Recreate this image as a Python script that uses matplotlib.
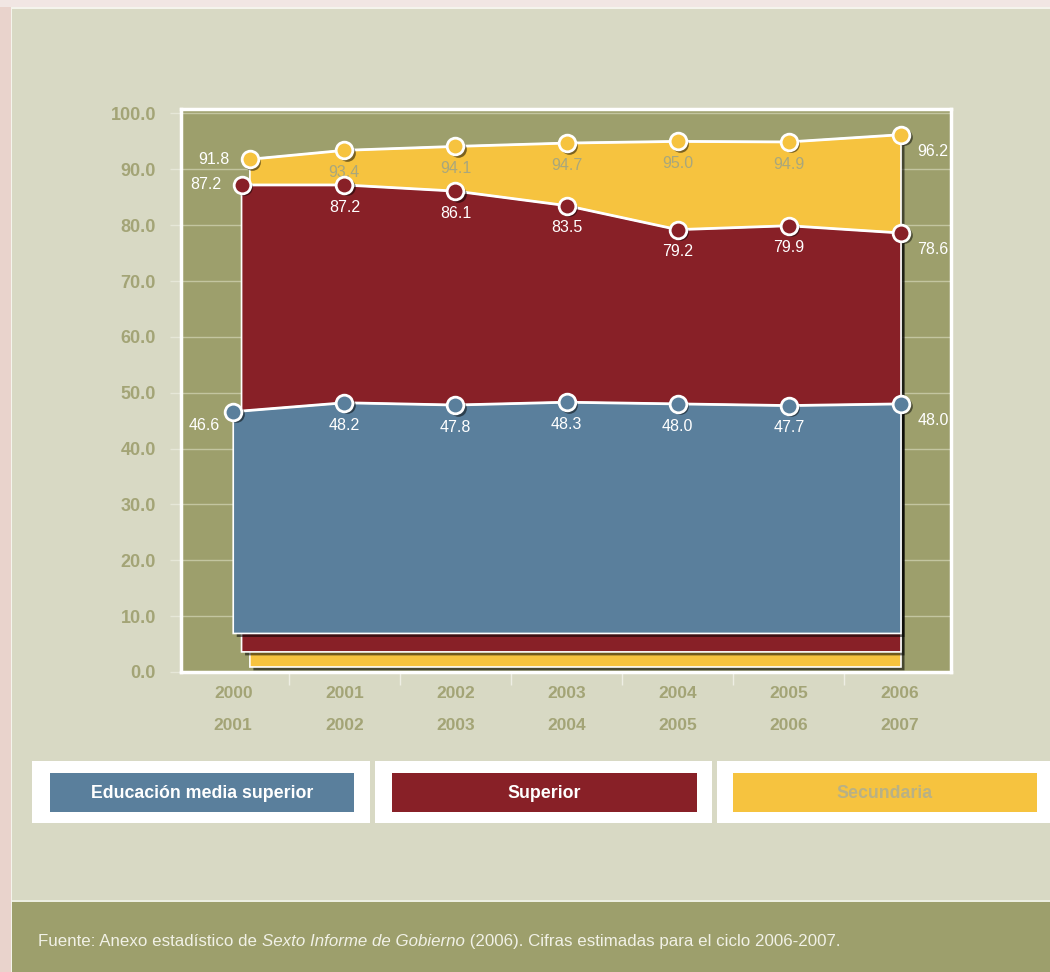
import matplotlib
matplotlib.use("Agg")
import matplotlib.pyplot as plt
from matplotlib.patches import Rectangle, Polygon
import matplotlib.transforms as mtransforms
import numpy as np

# ---------------- data ----------------
years_top = ["2000", "2001", "2002", "2003", "2004", "2005", "2006"]
years_bottom = ["2001", "2002", "2003", "2004", "2005", "2006", "2007"]
secundaria = [91.8, 93.4, 94.1, 94.7, 95.0, 94.9, 96.2]
superior = [87.2, 87.2, 86.1, 83.5, 79.2, 79.9, 78.6]
media_superior = [46.6, 48.2, 47.8, 48.3, 48.0, 47.7, 48.0]
series_names = ["Educación media superior", "Superior", "Secundaria"]
yticks = [0, 10, 20, 30, 40, 50, 60, 70, 80, 90, 100]

# ---------------- style ----------------
C_BLUE = "#5a7f9c"
C_RED = "#882027"
C_YEL = "#f6c33f"
C_OLIVE = "#9d9f6c"
C_BG = "#d8d9c4"
C_TICK = "#a3a476"
C_PINK = "#e9d3cc"

W, H = 1050, 972
fig = plt.figure(figsize=(W / 100, H / 100), dpi=100)
fig.patch.set_facecolor(C_PINK)

def fx(px):
    return px / W

def fy(py):
    return 1 - py / H

def frect(x0, y0, x1, y1, color, z):
    fig.patches.append(Rectangle((fx(x0), fy(y1)), (x1 - x0) / W, (y1 - y0) / H,
                                 transform=fig.transFigure, facecolor=color,
                                 edgecolor="none", zorder=z))

# background pieces
frect(0, 0, W, 7, "#f1e6e3", -5)
frect(11, 7, W, H, "#f4f4ec", -5)
frect(12, 9, W, H, C_BG, -4)
frect(12, 900, W, H, "#eceee0", -3)
frect(12, 902, W, H, C_OLIVE, -2)

# ---------------- main axes ----------------
left, right, top, bottom = 181, 951, 109, 672
ax = fig.add_axes([fx(left), fy(bottom), (right - left) / W, (bottom - top) / H])
ax.set_zorder(5)
ax.set_facecolor(C_OLIVE)
x = np.arange(len(years_top))
ax.set_xlim(-0.47, 6.46)
ax.set_ylim(0.5, 100.8)

for s in ax.spines.values():
    s.set_color("white")
    s.set_linewidth(2.5)

ax.set_yticks(yticks)
ax.set_yticklabels([f"{v:.1f}" for v in yticks])
ax.tick_params(axis="y", length=8, width=1, color="#e6e7d8", pad=10,
               labelsize=13, labelcolor=C_TICK)
for t in ax.get_yticklabels():
    t.set_fontweight("bold")
    t.set_family("Liberation Sans")
ax.yaxis.grid(True, color="#c3c5a0", linewidth=1, zorder=0)
ax.set_axisbelow(True)

ax.set_xticks(x)
ax.set_xticklabels([f"{a}\n{b}" for a, b in zip(years_top, years_bottom)])
ax.set_xticks(x[:-1] + 0.5, minor=True)
ax.tick_params(axis="x", which="major", length=0, pad=10, labelsize=12.5,
               labelcolor=C_TICK)
ax.tick_params(axis="x", which="minor", length=9, width=1, color="#eeeee4",
               direction="out")
for t in ax.get_xticklabels():
    t.set_fontweight("bold")
    t.set_family("Liberation Sans")
    t.set_linespacing(2.45)

shadow_tr = mtransforms.offset_copy(ax.transData, fig=fig, x=3.5, y=-3.5, units="dots")
mk_shadow_tr = mtransforms.offset_copy(ax.transData, fig=fig, x=2.5, y=-2.5, units="dots")

def area(values, color, x_left, base, z):
    xs = [x_left] + list(x[1:])
    xs[-1] = 6.01
    pts = [(x_left, base)] + list(zip(xs, values)) + [(6.01, base)]
    ax.add_patch(Polygon(pts, closed=True, facecolor="black", alpha=0.55,
                         edgecolor="none", transform=shadow_tr, zorder=z))
    ax.add_patch(Polygon(pts, closed=True, facecolor=color, edgecolor="white",
                         linewidth=1.2, zorder=z + 0.1))
    ax.plot(xs, values, color="white", linewidth=2, zorder=z + 0.2,
            solid_capstyle="round")
    ax.plot(xs, values, "o", markersize=12, color="black", alpha=0.5,
            transform=mk_shadow_tr, zorder=z + 0.3, markeredgewidth=0)
    ax.plot(xs, values, "o", markersize=12, markerfacecolor=color,
            markeredgecolor="white", markeredgewidth=2, zorder=z + 0.4)
    return xs

lab_font = dict(family=["Liberation Sans Narrow", "Liberation Sans"], fontsize=11.5,
                ha="center", va="center")

xs_y = area(secundaria, C_YEL, 0.15, 0.9, 2)
xs_r = area(superior, C_RED, 0.075, 3.6, 3)
xs_b = area(media_superior, C_BLUE, 0.0, 6.9, 4)

def label_points(xs, values, inner_color, z, first_off=(-26, 0)):
    for i, (xx, v) in enumerate(zip(xs, values)):
        txt = f"{v:.1f}"
        if i == 0:
            ax.annotate(txt, (xx, v), xytext=first_off, textcoords="offset points",
                        color="white", zorder=z, **lab_font)
        elif i == len(values) - 1:
            ax.annotate(txt, (xx, v), xytext=(23, -12), textcoords="offset points",
                        color="white", zorder=z, **lab_font)
        else:
            ax.annotate(txt, (xx, v), xytext=(0, -16), textcoords="offset points",
                        color=inner_color, zorder=z, **lab_font)

label_points(xs_y, secundaria, "#a9a77c", 2.5)
label_points(xs_r, superior, "white", 3.5)
label_points(xs_b, media_superior, "white", 4.5, first_off=(-21, -10))

# ---------------- legend boxes ----------------
boxes = [(32, 370, 50, 354), (375, 712, 392, 697), (717, 1050, 733, 1037)]
leg_colors = [C_BLUE, C_RED, C_YEL]
leg_text_colors = ["white", "white", "#b8b186"]
for (bx0, bx1, rx0, rx1), name, col, tcol in zip(boxes, series_names, leg_colors, leg_text_colors):
    frect(bx0, 761, bx1, 823, "white", 2)
    frect(rx0, 773, rx1, 812, col, 3)
    fig.text(fx((rx0 + rx1) / 2), fy(793), name, ha="center", va="center",
             color=tcol, fontsize=12.8, fontweight="bold", family="Liberation Sans",
             zorder=4)

# ---------------- footer ----------------
FS = 12.2
t1 = fig.text(fx(38), fy(941), "Fuente: Anexo estadístico de ", ha="left", va="center",
              color="#f1f1e6", fontsize=FS, family="Liberation Sans", zorder=5)
t2 = fig.text(0, 0, "Sexto Informe de Gobierno", color="#f1f1e6", fontsize=FS,
              family="Liberation Sans", style="italic", zorder=5)
t3 = fig.text(0, 0, " (2006). Cifras estimadas para el ciclo 2006-2007.", color="#f1f1e6",
              fontsize=FS, family="Liberation Sans", zorder=5)
fig.canvas.draw()
r = fig.canvas.get_renderer()
bb1 = t1.get_window_extent(r)
t2.set_position((bb1.x1 / W, bb1.y0 / H))
t2.set_va("bottom")
fig.canvas.draw()
bb2 = t2.get_window_extent(r)
t3.set_position((bb2.x1 / W, bb1.y0 / H))
t3.set_va("bottom")

fig.savefig("out.png", dpi=100, facecolor=fig.get_facecolor())
